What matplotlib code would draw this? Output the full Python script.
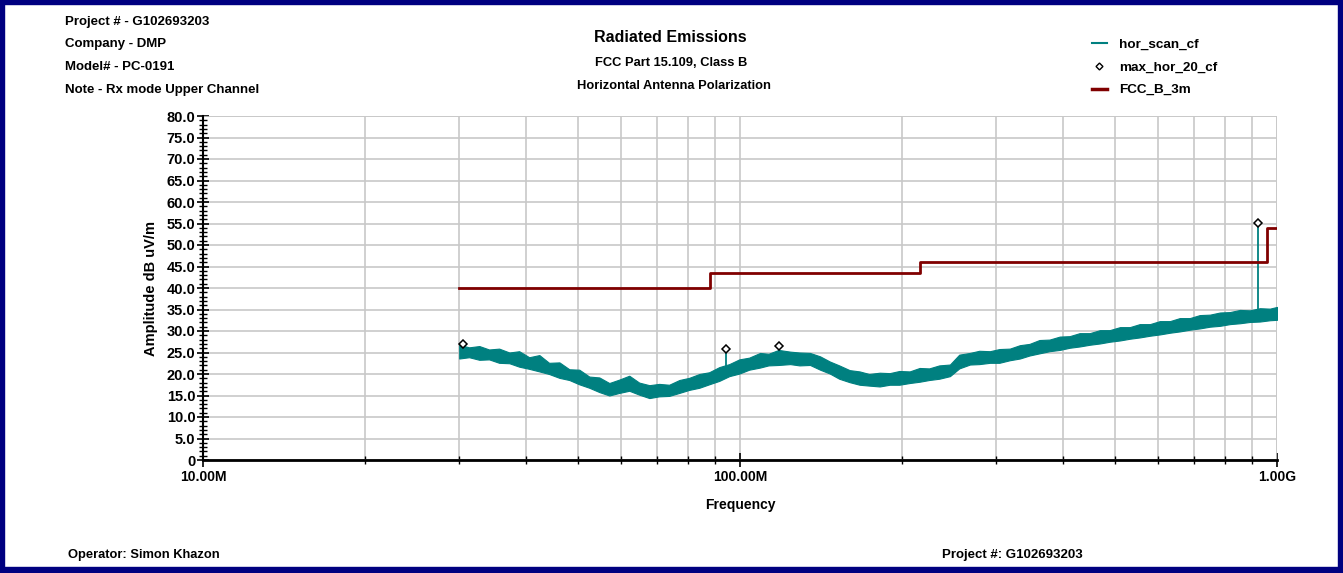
import matplotlib
matplotlib.use("Agg")
import matplotlib.pyplot as plt
from matplotlib.patches import Rectangle
from matplotlib.lines import Line2D
from matplotlib.ticker import FixedLocator, MultipleLocator, NullFormatter

plt.rcParams['font.family'] = ['Liberation Sans', 'DejaVu Sans']
plt.rcParams['font.weight'] = 'bold'

# scan trace: frequency (MHz), lower / upper edge of the noisy band (dBuV/m)
scan_freq = [30.0, 31.3, 32.7, 34.1, 35.6, 37.2, 38.8, 40.5, 42.3, 44.1,
             46.1, 48.1, 50.2, 52.4, 54.7, 57.1, 59.6, 62.2, 64.9, 67.8,
             70.7, 73.8, 77.1, 80.4, 84.0, 87.6, 91.5, 95.5, 99.7, 104,
             109, 113, 118, 124, 129, 135, 141, 147, 153, 160,
             167, 174, 182, 190, 198, 207, 216, 225, 235, 246,
             256, 268, 279, 292, 304, 318, 332, 346, 361, 377,
             394, 411, 429, 448, 468, 488, 510, 532, 555, 580,
             605, 632, 659, 688, 718, 750, 783, 817, 853, 890,
             929, 970, 1000]
scan_lo = [23.6, 23.9, 23.3, 23.4, 22.6, 22.5, 21.7, 21.2, 20.6, 20.0,
           19.1, 18.6, 17.6, 16.8, 15.8, 15.0, 15.6, 16.1, 15.2, 14.4,
           14.8, 14.9, 15.6, 16.3, 16.8, 17.6, 18.4, 19.5, 20.1, 21.0,
           21.5, 22.0, 22.1, 22.3, 22.0, 22.1, 21.0, 20.1, 18.9, 18.1,
           17.5, 17.3, 17.1, 17.5, 17.5, 17.9, 18.2, 18.6, 18.9, 19.5,
           21.3, 22.2, 22.3, 22.6, 22.6, 23.2, 23.6, 24.3, 24.8, 25.3,
           25.6, 26.1, 26.4, 26.8, 27.1, 27.5, 27.8, 28.2, 28.5, 28.9,
           29.2, 29.6, 29.9, 30.3, 30.6, 31.0, 31.2, 31.6, 31.8, 32.1,
           32.2, 32.5, 32.6]
scan_hi = [26.8, 26.2, 26.5, 25.7, 25.9, 25.0, 25.3, 23.9, 24.4, 22.6,
           22.7, 21.1, 21.0, 19.4, 19.2, 17.9, 18.7, 19.6, 18.0, 17.4,
           17.7, 17.5, 18.6, 19.1, 20.0, 20.4, 21.6, 22.3, 23.4, 23.8,
           24.9, 24.7, 25.6, 25.2, 25.0, 24.9, 24.1, 22.9, 22.0, 20.9,
           20.6, 20.0, 20.3, 20.2, 20.7, 20.6, 21.4, 21.3, 22.0, 22.2,
           24.5, 24.9, 25.4, 25.3, 25.8, 25.9, 26.7, 27.0, 27.9, 28.0,
           28.7, 28.8, 29.5, 29.5, 30.2, 30.2, 30.9, 30.9, 31.6, 31.6,
           32.3, 32.3, 33.0, 33.0, 33.7, 33.8, 34.3, 34.4, 34.9, 34.8,
           35.3, 35.2, 35.6]

# narrow spikes in the scan
spike_freq = [94.2, 921.6]
spike_base = [21.0, 33.7]
spike_top = [25.8, 55.1]

# peak markers
peak_freq = [30.5, 94.2, 118.2, 921.6]
peak_amp = [27.0, 25.8, 26.5, 55.1]

# FCC class B 3m limit
lim_freq = [30, 88, 88, 216, 216, 960, 960, 1000]
lim_amp = [40, 40, 43.5, 43.5, 46, 46, 54, 54]

x_ticks = [10, 100, 1000]
x_labels = ['10.00M', '100.00M', '1.00G']

W, H = 1343, 573
fig = plt.figure(figsize=(W / 100, H / 100), dpi=100)
ax = fig.add_axes([203 / W, 1 - 460 / H, (1277 - 203) / W, (460 - 116) / H])

teal = '#008080'
ax.fill_between(scan_freq, scan_lo, scan_hi, color=teal, lw=0.8, zorder=3)
ax.vlines(spike_freq, spike_base, spike_top, color=teal, lw=1.3, zorder=3)
ax.plot(peak_freq, peak_amp, ls='none', marker='D', ms=4.5, mfc='white', mec='black',
        mew=1.1, zorder=5)
ax.plot(lim_freq, lim_amp, color='#800000', lw=2, zorder=4)

ax.set_xscale('log')
ax.set_xlim(10, 1000)
ax.set_ylim(0, 80)
ax.xaxis.set_major_locator(FixedLocator(x_ticks))
ax.set_xticklabels(x_labels)
minors = [m * d for d in (10, 100) for m in range(2, 10)]
ax.xaxis.set_minor_locator(FixedLocator(minors))
ax.xaxis.set_minor_formatter(NullFormatter())
ax.yaxis.set_minor_locator(MultipleLocator(1))
ax.set_yticks(range(0, 81, 5))
ax.set_yticklabels(['0'] + ['%.1f' % v for v in range(5, 81, 5)])

ax.grid(True, which='major', axis='y', color='#c8c8c8', lw=1.2)
ax.grid(True, which='both', axis='x', color='#c8c8c8', lw=1.2)
ax.axhline(80, color='#c8c8c8', lw=1.2)
ax.axvline(1000, color='#c8c8c8', lw=1.2)
for s in ('top', 'right'):
    ax.spines[s].set_visible(False)
ax.spines['left'].set_linewidth(1.5)
ax.spines['bottom'].set_linewidth(2)

ax.tick_params(axis='y', which='major', direction='inout', length=9, width=1.2,
               labelsize=10.5, pad=1)
ax.tick_params(axis='y', which='minor', direction='inout', length=6, width=1)
ax.tick_params(axis='x', which='major', direction='inout', length=10, width=1.2,
               labelsize=10, pad=2)
ax.tick_params(axis='x', which='minor', direction='inout', length=6, width=1)

ax.set_xlabel('Frequency', fontsize=10, fontweight='bold', labelpad=10)
ax.set_ylabel('Amplitude dB uV/m', fontsize=10.5, fontweight='bold', labelpad=6)

# header
for i, t in enumerate(['Project # - G102693203', 'Company - DMP', 'Model# - PC-0191',
                       'Note - Rx mode Upper Channel']):
    fig.text(65 / W, 1 - (22 + i * 22.5) / H, t, fontsize=9.5, fontweight='bold',
             va='center', ha='left')

fig.text(670 / W, 1 - 38 / H, 'Radiated Emissions', fontsize=11.5, fontweight='bold',
         ha='center', va='center')
fig.text(671 / W, 1 - 63 / H, 'FCC Part 15.109, Class B', fontsize=9.3,
         fontweight='bold', ha='center', va='center')
fig.text(674 / W, 1 - 86 / H, 'Horizontal Antenna Polarization', fontsize=9.3,
         fontweight='bold', ha='center', va='center')

handles = [Line2D([], [], color=teal, lw=1.5),
           Line2D([], [], ls='none', marker='D', ms=3.5, mfc='white', mec='black'),
           Line2D([], [], color='#800000', lw=2.5)]
fig.legend(handles, ['hor_scan_cf', 'max_hor_20_cf', 'FCC_B_3m'],
           loc='upper left', bbox_to_anchor=(1085 / W, 1 - 32 / H),
           frameon=False, fontsize=9.7, handlelength=1.1, handletextpad=0.9,
           labelspacing=0.75, borderpad=0)

fig.text(68 / W, 1 - 555 / H, 'Operator: Simon Khazon', fontsize=9.3, fontweight='bold',
         va='center')
fig.text(942 / W, 1 - 555 / H, 'Project #: G102693203', fontsize=9.5, fontweight='bold',
         va='center')

# navy frame round the page
navy = '#000080'
for x0, y0, w, h in [(0, 0, 4, H), (0, H - 4, W, 4), (1338, 0, 5, H), (0, 0, W, 6)]:
    fig.patches.append(Rectangle((x0 / W, y0 / H), w / W, h / H, color=navy,
                                 transform=fig.transFigure, figure=fig, zorder=10))

fig.savefig('out.png', dpi=100)
